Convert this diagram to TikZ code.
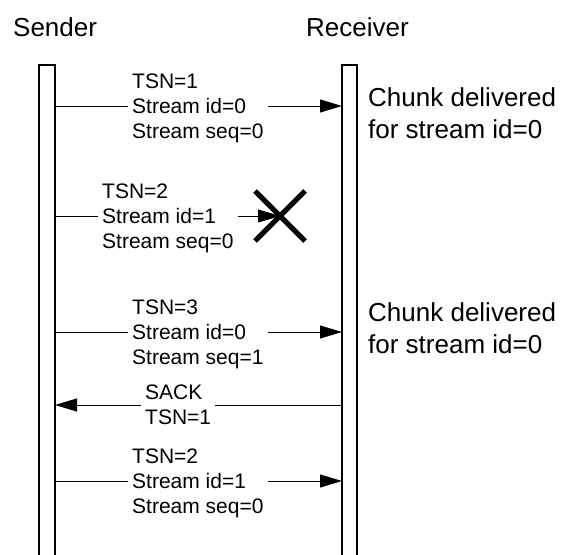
\documentclass[tikz,border=0pt]{standalone}
\usepackage{fontspec}
\setmainfont{Liberation Sans}
\usetikzlibrary{arrows.meta,calc}
\begin{document}
\begin{tikzpicture}[x=1pt,y=-1pt,
  big/.style={font=\fontsize{26}{32}\selectfont, inner sep=0pt},
  lbl/.style={font=\fontsize{21}{25}\selectfont, align=left, inner sep=4pt, fill=white, anchor=west},
  lifeline/.style={line width=1.5pt},
  msg/.style={line width=0.9pt, -{Triangle[length=22pt,width=13pt]}},
  cross/.style={line width=5pt}]
\useasboundingbox (0,0) rectangle (570,554);
% headers
\node[big, anchor=base west] (sender) at (13,36) {Sender};
\node[big, anchor=base west] (receiver) at (306,36) {Receiver};
% lifelines
\draw[lifeline] (39,560) -- (39,65) -- (55,65) -- (55,560);
\draw[lifeline] (342,560) -- (342,65) -- (357,65) -- (357,560);
% endpoints
\coordinate (s1) at (55,106);  \coordinate (r1) at (342,106);
\coordinate (s2) at (55,216);  \coordinate (x2) at (280,216);
\coordinate (s3) at (55,332);  \coordinate (r3) at (342,332);
\coordinate (r4) at (342,405); \coordinate (s4) at (55,405);
\coordinate (s5) at (55,481);  \coordinate (r5) at (342,481);
% messages
\draw[msg] (s1) -- (r1);
\node[lbl, yshift=-2.2pt] (m1) at (128,106) {TSN=1\\Stream id=0\\Stream seq=0};
\draw[msg] (s2) -- (x2);
\node[lbl, yshift=-2.2pt] (m2) at (98,216) {TSN=2\\Stream id=1\\Stream seq=0};
\draw[cross] ($(x2)+(-25,-25)$) -- ($(x2)+(25,25)$);
\draw[cross] ($(x2)+(-25,25)$) -- ($(x2)+(25,-25)$);
\draw[msg] (s3) -- (r3);
\node[lbl, yshift=-2.2pt] (m3) at (128,332) {TSN=3\\Stream id=0\\Stream seq=1};
\draw[msg] (r4) -- (s4);
\node[lbl] (m4) at (141,405) {SACK\\TSN=1};
\draw[msg] (s5) -- (r5);
\node[lbl, yshift=-2.2pt] (m5) at (128,481) {TSN=2\\Stream id=1\\Stream seq=0};
% receiver notes
\node[big, align=left, anchor=west] (d1) at (368,113) {Chunk delivered\\for stream id=0};
\node[big, align=left, anchor=west] (d2) at (368,328.5) {Chunk delivered\\for stream id=0};
\end{tikzpicture}
\end{document}
